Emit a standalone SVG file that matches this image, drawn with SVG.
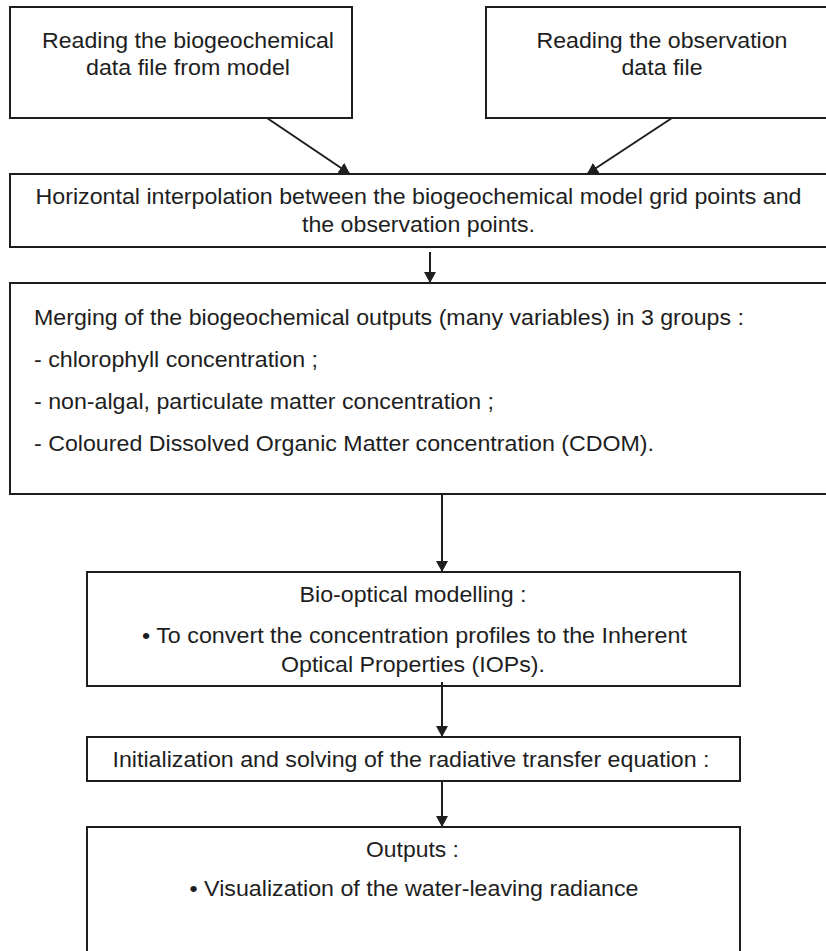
<svg xmlns="http://www.w3.org/2000/svg" width="826" height="951" viewBox="0 0 826 951">
<defs>
<style>
.box{fill:#ffffff;stroke:#1e1e1e;stroke-width:2}
.t{font-family:"Liberation Sans",Arial,sans-serif;font-size:21.5px;fill:#1e1e1e}
.c{text-anchor:middle}
.con{stroke:#1e1e1e;stroke-width:2;fill:none;marker-end:url(#ah)}
</style>
<marker id="ah" viewBox="0 0 11 12" refX="11" refY="6" markerWidth="11" markerHeight="12" markerUnits="userSpaceOnUse" orient="auto">
<path d="M0,0 L11,6 L0,12 Z" fill="#1e1e1e"/>
</marker>
</defs>
<rect width="826" height="951" fill="#ffffff"/>
<g id="n1">
<rect class="box" x="10" y="7" width="342" height="111"/>
<text class="t c" x="188" y="48" textLength="292" lengthAdjust="spacingAndGlyphs">Reading the biogeochemical</text>
<text class="t c" x="188" y="75" textLength="204" lengthAdjust="spacingAndGlyphs">data file from model</text>
</g>
<g id="n2">
<rect class="box" x="486" y="7" width="344" height="111"/>
<text class="t c" x="662" y="48" textLength="251" lengthAdjust="spacingAndGlyphs">Reading the observation</text>
<text class="t c" x="662" y="75" textLength="81" lengthAdjust="spacingAndGlyphs">data file</text>
</g>
<g id="n3">
<rect class="box" x="10" y="174" width="820" height="73"/>
<text class="t c" x="418.5" y="204" textLength="766" lengthAdjust="spacingAndGlyphs">Horizontal interpolation between the biogeochemical model grid points and</text>
<text class="t c" x="418.5" y="232" textLength="233" lengthAdjust="spacingAndGlyphs">the observation points.</text>
</g>
<g id="n4">
<rect class="box" x="10" y="283" width="820" height="211"/>
<text class="t" x="34" y="325" textLength="710" lengthAdjust="spacingAndGlyphs">Merging of the biogeochemical outputs (many variables) in 3 groups :</text>
<text class="t" x="34" y="367" textLength="284" lengthAdjust="spacingAndGlyphs">- chlorophyll concentration ;</text>
<text class="t" x="34" y="409" textLength="460" lengthAdjust="spacingAndGlyphs">- non-algal, particulate matter concentration ;</text>
<text class="t" x="34" y="451" textLength="620" lengthAdjust="spacingAndGlyphs">- Coloured Dissolved Organic Matter concentration (CDOM).</text>
</g>
<g id="n5">
<rect class="box" x="87" y="572" width="653" height="114"/>
<text class="t c" x="413" y="602" textLength="227" lengthAdjust="spacingAndGlyphs">Bio-optical modelling :</text>
<text class="t c" x="414.5" y="643" textLength="545" lengthAdjust="spacingAndGlyphs">• To convert the concentration profiles to the Inherent</text>
<text class="t c" x="413" y="672" textLength="264" lengthAdjust="spacingAndGlyphs">Optical Properties (IOPs).</text>
</g>
<g id="n6">
<rect class="box" x="87" y="737" width="653" height="44"/>
<text class="t c" x="411" y="767" textLength="597" lengthAdjust="spacingAndGlyphs">Initialization and solving of the radiative transfer equation :</text>
</g>
<g id="n7">
<rect class="box" x="87" y="827" width="653" height="130"/>
<text class="t c" x="412.5" y="857" textLength="93" lengthAdjust="spacingAndGlyphs">Outputs :</text>
<text class="t c" x="414" y="896" textLength="449" lengthAdjust="spacingAndGlyphs">• Visualization of the water-leaving radiance</text>
</g>
<g id="connectors">
<line class="con" x1="267" y1="118" x2="350" y2="174"/>
<line class="con" x1="672" y1="118" x2="587" y2="174"/>
<line class="con" x1="430" y1="252" x2="430" y2="283"/>
<line class="con" x1="442" y1="494" x2="442" y2="572"/>
<line class="con" x1="442" y1="682" x2="442" y2="737"/>
<line class="con" x1="442" y1="782" x2="442" y2="827"/>
</g>
</svg>
